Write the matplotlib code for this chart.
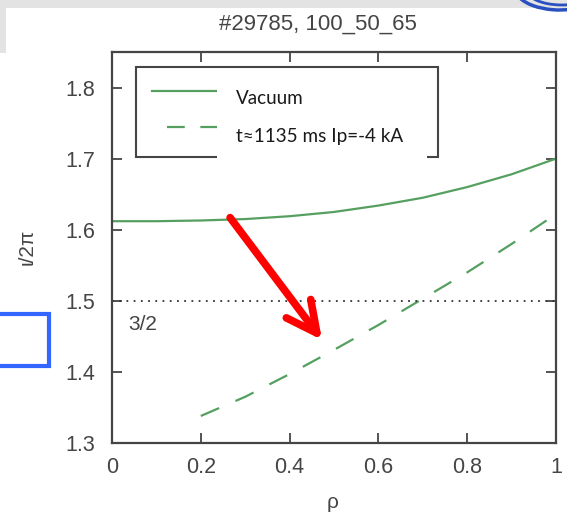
import matplotlib
matplotlib.use("Agg")
import matplotlib.pyplot as plt
from matplotlib.patches import Rectangle, Arc

# rotational transform profiles, shot #29785
rho_vac = [0.0, 0.1, 0.2, 0.3, 0.4, 0.5, 0.6, 0.7, 0.8, 0.9, 1.0]
iota_vac = [1.612, 1.612, 1.613, 1.615, 1.619, 1.625, 1.634, 1.645, 1.660, 1.678, 1.700]

rho_ip = [0.2, 0.3, 0.4, 0.5, 0.6, 0.7, 0.8, 0.9, 1.0]
iota_ip = [1.338, 1.365, 1.397, 1.431, 1.466, 1.503, 1.540, 1.580, 1.622]

iota_res = 1.5
labels = ["Vacuum", "t\u22481135 ms Ip=-4 kA"]
xticks = [0, 0.2, 0.4, 0.6, 0.8, 1]
xticklabels = ["0", "0.2", "0.4", "0.6", "0.8", "1"]
yticks = [1.3, 1.4, 1.5, 1.6, 1.7, 1.8]

W, H = 567, 520
green = "#55a060"
grey = "#454545"

fig = plt.figure(figsize=(W / 100, H / 100), dpi=100)
fig.patch.set_facecolor("white")

# grey slide background strips and logo bits
fig.patches.append(Rectangle((0, 1 - 8 / H), 1, 8 / H, transform=fig.transFigure,
                             facecolor="#e3e3e3", edgecolor="none", zorder=0))
fig.patches.append(Rectangle((0, 1 - 53 / H), 6 / W, 53 / H, transform=fig.transFigure,
                             facecolor="#e3e3e3", edgecolor="none", zorder=0))
fig.patches.append(Arc((560 / W, 1 + 12 / H), 90 / W, 44 / H, theta1=180, theta2=300,
                       transform=fig.transFigure, color="#2a4fc0", lw=2.5))
fig.patches.append(Arc((562 / W, 1 + 10 / H), 70 / W, 30 / H, theta1=190, theta2=310,
                       transform=fig.transFigure, color="#2a4fc0", lw=2))

ax = fig.add_axes([112 / W, 1 - 443 / H, 444 / W, 391 / H])
ax.plot(rho_vac, iota_vac, color=green, lw=1.6)
ax.plot(rho_ip, iota_ip, color=green, lw=1.6, dashes=(9, 8))
ax.axhline(iota_res, color="#333333", lw=1.3, dashes=(1, 3))
ax.text(0.036, 1.466, "3/2", fontsize=15, color=grey, va="center", ha="left",
        family="Liberation Sans")

ax.set_xlim(0, 1)
ax.set_ylim(1.3, 1.85)
ax.set_xticks(xticks)
ax.set_xticklabels(xticklabels)
ax.set_yticks(yticks)
ax.tick_params(direction="in", length=7, width=1.3, color=grey, labelcolor=grey,
               labelsize=15.5, top=True, right=True)
ax.tick_params(axis="x", pad=10)
ax.tick_params(axis="y", pad=12)
for lab in ax.get_xticklabels() + ax.get_yticklabels():
    lab.set_family("Liberation Sans")
for sp in ax.spines.values():
    sp.set_color(grey)
    sp.set_linewidth(1.6)

# legend box, drawn by hand
ax.add_patch(Rectangle((0.054, 0.7315), 0.680, 0.230, transform=ax.transAxes,
                       facecolor="white", edgecolor=grey, lw=1.5, zorder=4))
ax.plot([0.090, 0.236], [0.900, 0.900], transform=ax.transAxes, color=green, lw=1.6, zorder=5)
ax.plot([0.124, 0.236], [0.808, 0.808], transform=ax.transAxes, color=green, lw=1.6,
        dashes=(8, 7), zorder=5)
ax.add_patch(Rectangle((0.236, 0.722), 0.473, 0.224, transform=ax.transAxes,
                       facecolor="white", edgecolor="none", zorder=6))
ax.text(0.279, 0.882, labels[0], transform=ax.transAxes, fontsize=13.6, family="Lato",
        va="center", ha="left", color="#1a1a1a", zorder=7)
ax.text(0.279, 0.783, labels[1], transform=ax.transAxes, fontsize=13.6, family="Lato",
        va="center", ha="left", color="#1a1a1a", zorder=7)

# arrow showing the shift of the profile
ax.annotate("", xy=(0.473, 1.445), xytext=(0.266, 1.617),
            arrowprops=dict(arrowstyle="->, head_length=1.1, head_width=0.55",
                            mutation_scale=20, color="#ff0000", lw=5.5,
                            shrinkA=0, shrinkB=0), zorder=8)

fig.text(317.5 / W, 1 - 24 / H, "#29785, 100_50_65", fontsize=16, color=grey,
         ha="center", va="center", family="Liberation Sans")
fig.text(27 / W, 1 - 247 / H, "\u03b9/2\u03c0", fontsize=15, color=grey, rotation=90,
         ha="center", va="center", family="Liberation Sans")
fig.text(333 / W, 1 - 503 / H, "\u03c1", fontsize=15, color=grey,
         ha="center", va="center", family="Liberation Sans")

# blue frame at the left edge
fig.patches.append(Rectangle((-20 / W, 1 - 366 / H), 69 / W, 52 / H, transform=fig.transFigure,
                             facecolor="none", edgecolor="#3366ff", lw=3, zorder=10))

fig.savefig("out.png", dpi=100)
